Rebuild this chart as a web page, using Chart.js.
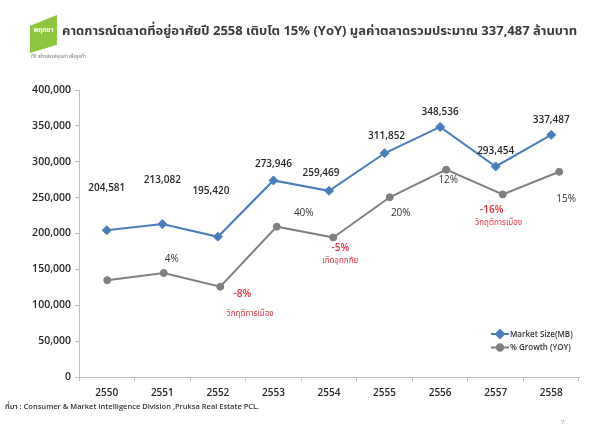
<!DOCTYPE html>
<html><head><meta charset="utf-8">
<script src="https://cdn.jsdelivr.net/npm/chart.js@4.4.1/dist/chart.umd.min.js"></script>
<style>
html,body{margin:0;padding:0;background:#fff;width:600px;height:429px;overflow:hidden;font-family:"Open Sans","Noto Sans","Noto Sans Thai",sans-serif;}
#wrap{position:absolute;left:0;top:0;width:600px;height:429px;}
#logo{position:absolute;left:30px;top:15px;width:27px;height:38px;background:#8dc63f;clip-path:polygon(0 28%,100% 0,100% 78%,0 100%);}
#logoTxt{position:absolute;left:30px;top:25px;width:27px;text-align:center;font-size:6.5px;color:#fff;font-weight:bold;}
#logoSub{position:absolute;left:31px;top:53px;font-size:4.5px;color:#777;white-space:nowrap;}
#title{position:absolute;left:62px;top:21px;font-size:13px;font-weight:bold;color:#3a3a3a;white-space:nowrap;}
#src{position:absolute;left:5px;top:401px;font-size:7.5px;font-weight:600;color:#333;white-space:nowrap;}
#pg{position:absolute;left:561px;top:418px;font-size:6px;color:#888;}
canvas{position:absolute;left:0;top:0;}
</style></head>
<body><div id="wrap">
<canvas id="c" width="600" height="429"></canvas>
<div id="logo"></div><div id="logoTxt">พฤกษา</div>
<div id="logoSub">ที่ดี สร้างสรรค์คุณค่า เพื่อลูกค้า</div>
<div id="title">คาดการณ์ตลาดที่อยู่อาศัยปี 2558 เติบโต 15% (YoY) มูลค่าตลาดรวมประมาณ 337,487 ล้านบาท</div>
<div id="src">ที่มา : Consumer &amp; Market Intelligence Division ,Pruksa Real Estate PCL.</div>
<div id="pg">7</div>
</div>
<script>
const years = ['2550','2551','2552','2553','2554','2555','2556','2557','2558'];
const marketSize = [204581, 213082, 195420, 273946, 259469, 311852, 348536, 293454, 337487];
const growthLineLevel = [135000, 145000, 125800, 209500, 194500, 250500, 289000, 254500, 286000];
const growthLabels = ['', '4%', '-8%', '40%', '-5%', '20%', '12%', '-16%', '15%'];
const growthNotes = ['', '', 'วิกฤติการเมือง', '', 'เกิดอุทกภัย', '', '', 'วิกฤติการเมือง', ''];
const yTicks = [0, 50000, 100000, 150000, 200000, 250000, 300000, 350000, 400000];
const seriesNames = ['Market Size(MB)', '% Growth (YOY)'];

const BLUE = '#4a7ebb', GRAY = '#7f7f7f', RED = '#e0313a';
const FONT = '"Open Sans","Noto Sans","Noto Sans Thai",sans-serif';
// label placement (pixels)
const blueOff = [[0,42],[0,44],[-7,46],[0,16],[-8,18],[2,17],[0,15],[0,15],[0,15]];
const growthOff = [null,[8,-14],[22,7],[27,-14],[7,11],[11,16],[2,11],[-11,16],[7,27]];
const noteOff = [null,null,[30,27],null,[7,23],null,null,[-4,28],null];

const fmt = v => v.toLocaleString('en-US');

const labelPlugin = {
  id: 'labels',
  afterDatasetsDraw(chart) {
    const ctx = chart.ctx;
    ctx.save();
    ctx.textAlign = 'center';
    ctx.textBaseline = 'middle';
    const m0 = chart.getDatasetMeta(0).data;
    const m1 = chart.getDatasetMeta(1).data;
    ctx.font = '600 10px ' + FONT;
    ctx.fillStyle = '#262626';
    m0.forEach((p, i) => {
      ctx.fillText(fmt(marketSize[i]), p.x + blueOff[i][0], p.y - blueOff[i][1]);
    });
    m1.forEach((p, i) => {
      if (!growthLabels[i]) return;
      const neg = growthLabels[i].startsWith('-');
      ctx.font = (neg ? '600 ' : '400 ') + '10px ' + FONT;
      ctx.fillStyle = neg ? RED : '#333';
      ctx.fillText(growthLabels[i], p.x + growthOff[i][0], p.y + growthOff[i][1]);
      if (growthNotes[i]) {
        ctx.font = '400 8px ' + FONT;
        ctx.fillStyle = RED;
        ctx.fillText(growthNotes[i], p.x + noteOff[i][0], p.y + noteOff[i][1]);
      }
    });
    // legend
    const lg = [[BLUE, 'rectRot', 4, 334], [GRAY, 'circle', 3.2, 347.5]];
    lg.forEach((l, k) => {
      ctx.strokeStyle = l[0]; ctx.lineWidth = 2;
      ctx.beginPath(); ctx.moveTo(491, l[3]); ctx.lineTo(509, l[3]); ctx.stroke();
      ctx.fillStyle = l[0];
      Chart.helpers.drawPoint(ctx, {pointStyle: l[1], radius: l[2], borderWidth: 1}, 500, l[3]);
      ctx.font = '600 8px ' + FONT;
      ctx.fillStyle = '#333';
      ctx.textAlign = 'left';
      ctx.fillText(seriesNames[k], 510, l[3] + 0.5);
    });
    ctx.restore();
  }
};

new Chart(document.getElementById('c'), {
  type: 'line',
  data: {
    labels: years,
    datasets: [
      { label: seriesNames[0], data: marketSize, borderColor: BLUE, backgroundColor: BLUE,
        borderWidth: 2, pointStyle: 'rectRot', pointRadius: 4.5, pointBorderWidth: 1, tension: 0, xAxisID: 'x' },
      { label: seriesNames[1], data: growthLineLevel.map((v, i) => ({x: i, y: v})), borderColor: GRAY, backgroundColor: GRAY,
        borderWidth: 2, pointStyle: 'circle', pointRadius: 3.5, pointBorderWidth: 1, tension: 0, xAxisID: 'x2' }
    ]
  },
  options: {
    responsive: false, animation: false, devicePixelRatio: 1,
    layout: { padding: { left: 0, right: 21, top: 90, bottom: 0 } },
    plugins: { legend: { display: false }, tooltip: { enabled: false } },
    scales: {
      x: {
        type: 'category', offset: true,
        grid: { display: true, drawOnChartArea: false, offset: true, tickLength: 4, color: '#bfbfbf' },
        border: { color: '#bfbfbf', width: 1 },
        ticks: { color: '#262626', font: { family: FONT, size: 10, weight: '600' }, padding: 6, maxRotation: 0 },
        afterFit(s) { s.height = 52; }
      },
      x2: { type: 'linear', display: false, min: -0.5, max: 8.35 },
      y: {
        min: 0, max: 400000,
        afterBuildTicks(s) { s.ticks = yTicks.map(v => ({ value: v })); },
        grid: { display: true, drawOnChartArea: false, tickLength: 4, color: '#bfbfbf' },
        border: { color: '#bfbfbf', width: 1 },
        ticks: { color: '#262626', font: { family: FONT, size: 10.5, weight: '600' }, padding: 4, callback: v => fmt(v) },
        afterFit(s) { s.width = 79; }
      }
    }
  },
  plugins: [labelPlugin]
});
</script>
</body></html>
